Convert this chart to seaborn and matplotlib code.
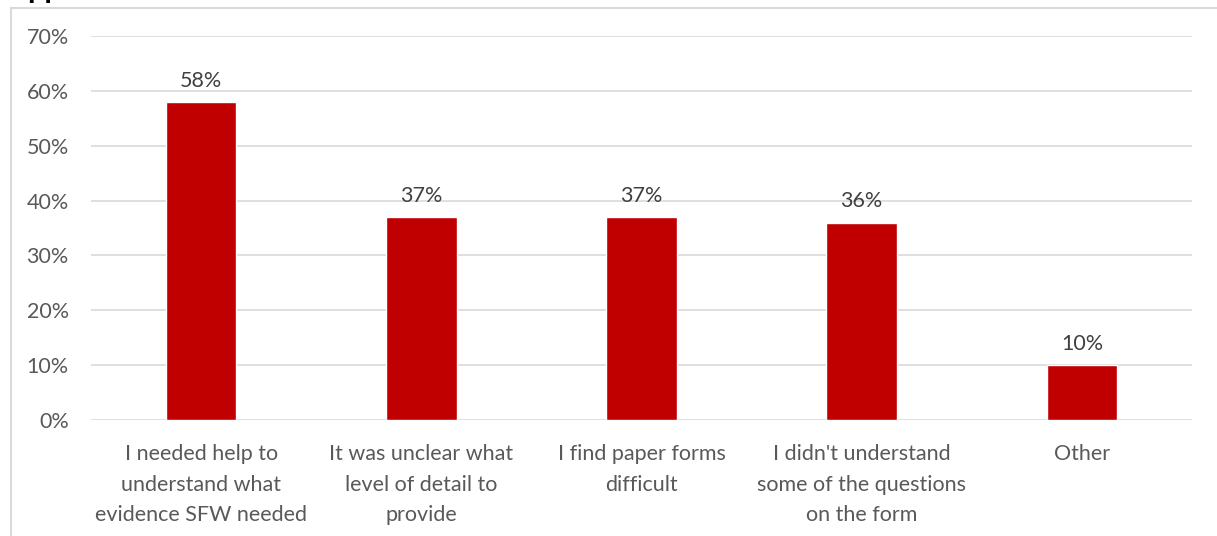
import matplotlib
matplotlib.use("Agg")
import matplotlib.pyplot as plt
import seaborn as sns
import pandas as pd
from matplotlib.patches import Rectangle
from matplotlib.ticker import PercentFormatter

categories = [
    "I needed help to\nunderstand what\nevidence SFW needed",
    "It was unclear what\nlevel of detail to\nprovide",
    "I find paper forms\ndifficult",
    "I didn't understand\nsome of the questions\non the form",
    "Other",
]
values = [0.58, 0.37, 0.37, 0.36, 0.10]
value_labels = ["58%", "37%", "37%", "36%", "10%"]
y_ticks = [0, 0.1, 0.2, 0.3, 0.4, 0.5, 0.6, 0.7]

sns.set_theme(style="white")
plt.rcParams["font.family"] = ["Lato", "DejaVu Sans"]

W, H = 1217, 536
fig = plt.figure(figsize=(W / 100, H / 100), dpi=100)
ax = fig.add_axes([91 / W, 1 - 420 / H, (1192 - 91) / W, (420 - 36) / H])

df = pd.DataFrame({"cat": categories, "val": values})
sns.barplot(data=df, x="cat", y="val", color="#C00000", width=0.32,
            saturation=1, ax=ax, zorder=3)

ax.set_ylim(0, 0.7)
ax.set_xlim(-0.5, len(categories) - 0.5)
ax.set_yticks(y_ticks)
ax.yaxis.set_major_formatter(PercentFormatter(1.0, decimals=0))
ax.grid(axis="y", color="#D9D9D9", linewidth=1.2, zorder=0)
ax.set_axisbelow(True)
for s in ax.spines.values():
    s.set_visible(False)
ax.set_xlabel("")
ax.set_ylabel("")
ax.tick_params(axis="y", length=0, pad=16, labelsize=15.5, labelcolor="#595959")
ax.tick_params(axis="x", length=0, pad=17.5, labelsize=15.5, labelcolor="#595959")
for lab in ax.get_xticklabels():
    lab.set_linespacing(1.65)

for i, (v, t) in enumerate(zip(values, value_labels)):
    ax.annotate(t, (i, v), xytext=(0, 8), textcoords="offset points",
                ha="center", va="bottom", fontsize=15.5, color="#404040")

# outer chart frame (partially cropped in the reference)
fig.patches.append(Rectangle((10.5 / W, -0.1), 1.2, 1 - 7.5 / H + 0.1,
                             transform=fig.transFigure, fill=False,
                             edgecolor="#D9D9D9", linewidth=1.5))
fig.text(27 / W, 1 + 2 / H, "pp", fontsize=22, fontweight="bold",
         color="black", va="baseline", ha="left")

fig.savefig("out.png", dpi=100, facecolor="white")
